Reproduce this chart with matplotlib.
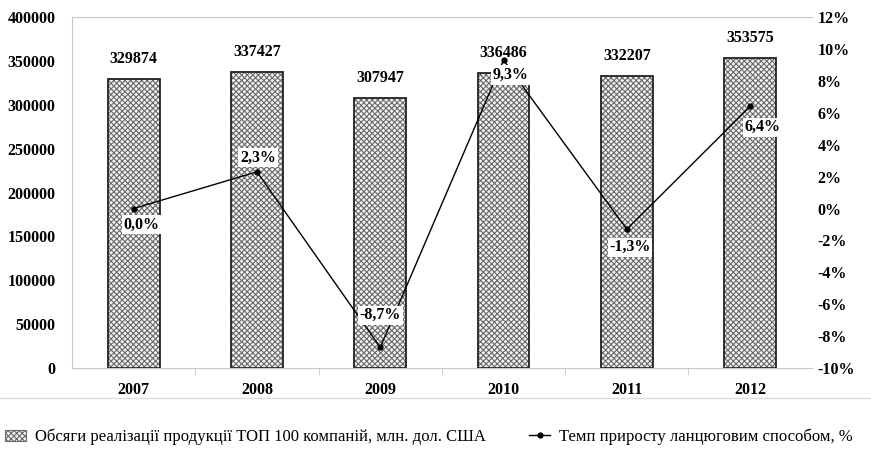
import matplotlib
matplotlib.use("Agg")
import matplotlib.pyplot as plt
from matplotlib.lines import Line2D
from matplotlib.patches import Patch
from matplotlib.ticker import FuncFormatter, FixedLocator

plt.rcParams["font.family"] = ["Liberation Serif", "DejaVu Serif"]
plt.rcParams["hatch.linewidth"] = 0.8

years = ["2007", "2008", "2009", "2010", "2011", "2012"]
sales = [329874, 337427, 307947, 336486, 332207, 353575]
growth = [0.0, 2.3, -8.7, 9.3, -1.3, 6.4]
bar_label = "Обсяги реалізації продукції ТОП 100 компаній, млн. дол. США"
line_label = "Темп приросту ланцюговим способом, %"

# label offsets for the growth values, in pixels
growth_offsets = [(8, -16), (1, 14), (0, 32), (7, -15), (3, -18), (12, -21)]

fs = 11.5
fig = plt.figure(figsize=(8.71, 4.59), dpi=100)
ax = fig.add_axes([0.0827, 0.198, 0.8493, 0.765])
x = range(len(years))

ax.bar(x, sales, width=0.42, color="#f2f2f2", edgecolor="#6a6a6a", hatch="xxxxxx", linewidth=0)
ax.bar(x, sales, width=0.42, fill=False, edgecolor="#222222", linewidth=1.3)
for i, v in enumerate(sales):
    ax.annotate(str(v), (i, v), xytext=(0, 12), textcoords="offset pixels",
                ha="center", va="bottom", fontsize=fs, fontweight="bold")

ax.set_xlim(-0.5, len(years) - 0.5)
ax.set_ylim(0, 400000)
ax.set_yticks(range(0, 400001, 50000))
ax.set_xticks(list(x))
ax.set_xticklabels(years)
ax.xaxis.set_minor_locator(FixedLocator([i + 0.5 for i in range(len(years) - 1)]))
ax.tick_params(axis="x", which="major", length=0, pad=10, labelsize=fs)
ax.tick_params(axis="x", which="minor", length=5, color="#c8c8c8")
ax.tick_params(axis="y", length=0, pad=12, labelsize=fs)
for lab in ax.get_xticklabels() + ax.get_yticklabels():
    lab.set_fontweight("bold")
for s in ["left", "bottom", "top"]:
    ax.spines[s].set_color("#c8c8c8")
ax.spines["right"].set_visible(False)

ax2 = ax.twinx()
ax2.plot(list(x), growth, color="black", linewidth=1.0, marker="o", markersize=3.5)
ax2.set_ylim(-10, 12)
ax2.set_yticks(range(-10, 13, 2))
ax2.yaxis.set_major_formatter(FuncFormatter(lambda v, p: f"{int(v)}%"))
ax2.tick_params(axis="y", length=0, pad=4, labelsize=fs)
for lab in ax2.get_yticklabels():
    lab.set_fontweight("bold")
for s in ax2.spines.values():
    s.set_visible(False)
for i, g in enumerate(growth):
    txt = f"{g:.1f}%".replace(".", ",")
    ax2.annotate(txt, (i, g), xytext=growth_offsets[i], textcoords="offset pixels",
                 ha="center", va="center", fontsize=fs, fontweight="bold",
                 bbox=dict(boxstyle="square,pad=0.1", facecolor="white", edgecolor="none"))

fig.add_artist(Line2D([0, 1], [0.133, 0.133], color="#dcdcdc", linewidth=1))

handles = [Patch(facecolor="#f2f2f2", edgecolor="#6a6a6a", hatch="xxxxxx", linewidth=0.8),
           Line2D([], [], color="black", linewidth=1.0, marker="o", markersize=3.5)]
fig.legend(handles, [bar_label, line_label], loc="center left", bbox_to_anchor=(-0.012, 0.048),
           ncol=2, frameon=False, fontsize=12, handlelength=1.3, handletextpad=0.5,
           columnspacing=2.6)

plt.savefig("out.png", dpi=100)
